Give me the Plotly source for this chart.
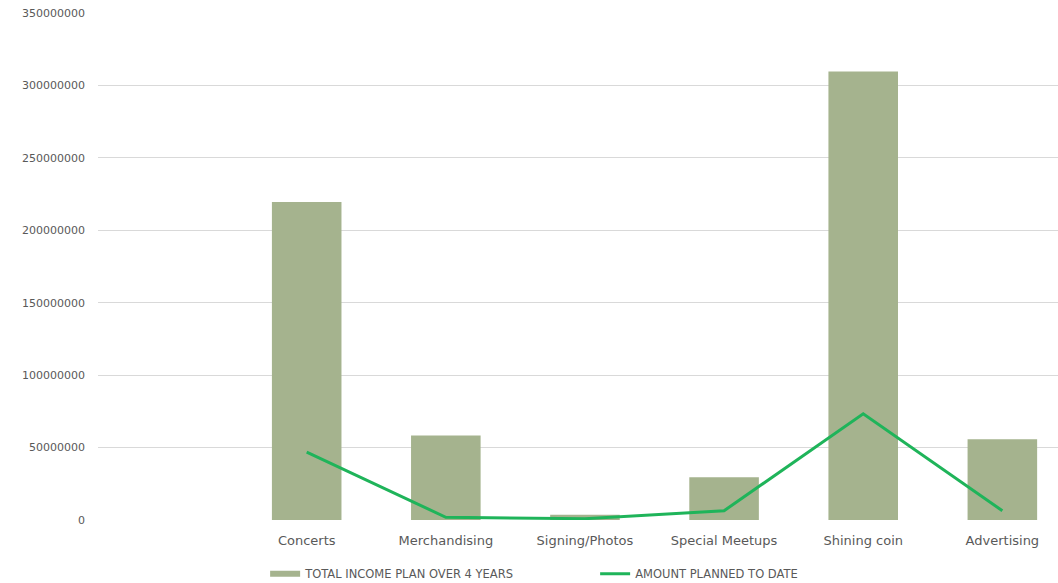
import plotly.graph_objects as go

# Income categories (the first slot is intentionally left blank)
categories = [" ", "Concerts", "Merchandising", "Signing/Photos", "Special Meetups", "Shining coin", "Advertising"]
total_income_plan = [None, 219500000, 58300000, 3600000, 29500000, 309600000, 55800000]
amount_planned = [None, 46800000, 1900000, 900000, 6400000, 73300000, 6400000]

y_ticks = [0, 50000000, 100000000, 150000000, 200000000, 250000000, 300000000, 350000000]

font_family = "'DejaVu Sans', sans-serif"
text_color = "#595959"
bar_color = "#a5b38e"
line_color = "#1fb45a"

fig = go.Figure()
fig.add_trace(go.Bar(
    x=categories,
    y=total_income_plan,
    name="TOTAL INCOME PLAN OVER 4 YEARS",
    marker=dict(color=bar_color, line=dict(width=0)),
    showlegend=False,
))
# Legend key for the bars drawn as a wide flat swatch
fig.add_trace(go.Scatter(
    x=[None], y=[None],
    name="TOTAL INCOME PLAN OVER 4 YEARS",
    mode="lines",
    line=dict(color=bar_color, width=6),
))
fig.add_trace(go.Scatter(
    x=categories,
    y=amount_planned,
    name="AMOUNT PLANNED TO DATE",
    mode="lines",
    line=dict(color=line_color, width=3),
    connectgaps=False,
))

fig.update_layout(
    width=1058,
    height=583,
    margin=dict(l=98, r=0, t=13, b=63, autoexpand=False),
    plot_bgcolor="white",
    paper_bgcolor="white",
    bargap=0.5,
    font=dict(family=font_family, color=text_color),
    showlegend=True,
    legend=dict(
        orientation="h",
        xref="container", x=0.5625, xanchor="center",
        yref="container", y=0.016, yanchor="middle",
        font=dict(size=11.5, color=text_color),
        traceorder="normal",
        itemwidth=30,
        entrywidth=285,
        bgcolor="rgba(0,0,0,0)",
    ),
    xaxis=dict(
        type="category",
        range=[-0.5, 6.4],
        automargin=False,
        showgrid=False,
        showline=False,
        ticks="",
        ticklabelstandoff=11,
        tickfont=dict(size=13, color=text_color),
    ),
    yaxis=dict(
        range=[0, 350000000],
        automargin=False,
        tickvals=y_ticks,
        ticktext=[str(v) for v in y_ticks],
        showgrid=True,
        gridcolor="#d9d9d9",
        gridwidth=1,
        zeroline=False,
        showline=False,
        ticks="",
        ticklabelstandoff=12,
        tickfont=dict(size=11, color=text_color),
    ),
)

fig.write_html("out.html")
